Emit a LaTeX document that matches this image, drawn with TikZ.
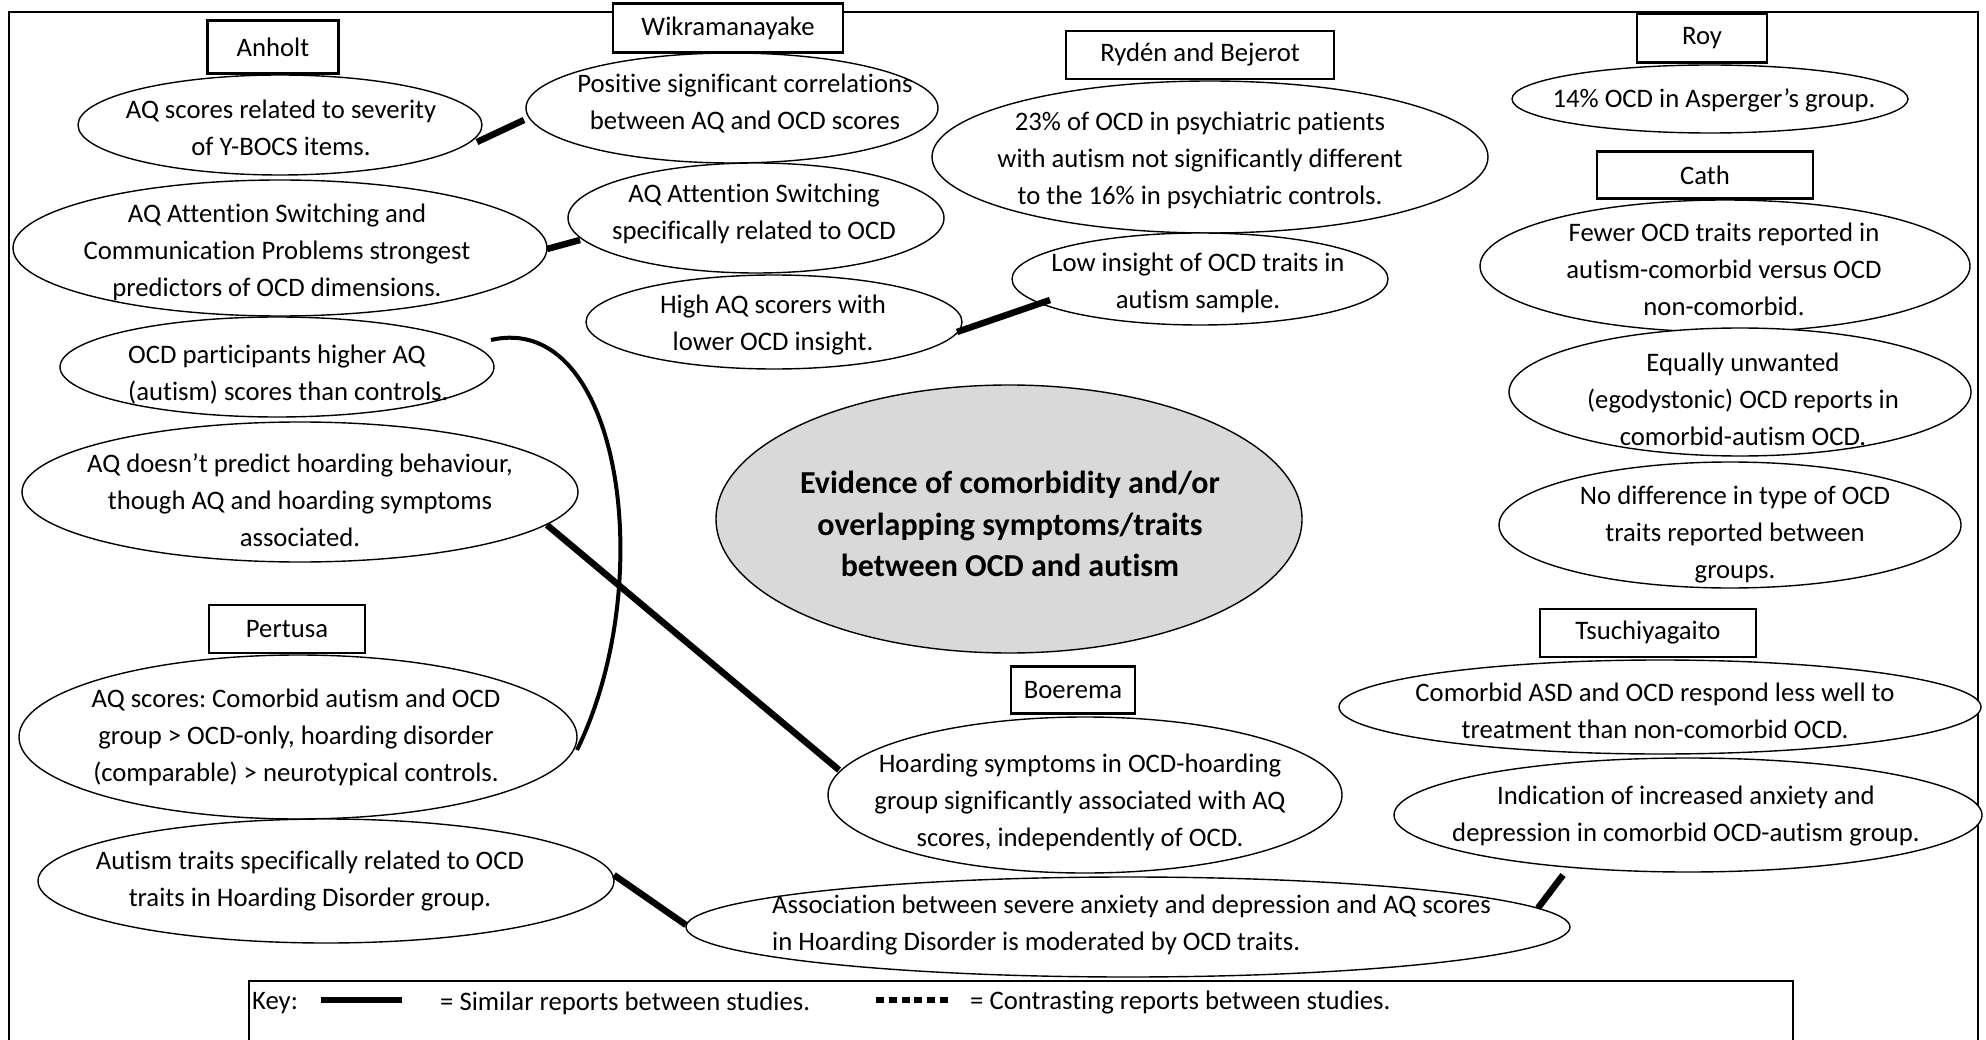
\documentclass[tikz,border=0pt]{standalone}
\usepackage{fontspec}
\setmainfont[Ligatures={TeX,NoCommon}]{Carlito}
\frenchspacing
\usetikzlibrary{shapes.geometric,calc}
\begin{document}
\begin{tikzpicture}[x=1pt,y=-1pt,
  bubble/.style={draw, ellipse, fill=white, line width=1.4pt, inner sep=0pt},
  studybox/.style={draw, rectangle, fill=white, line width=2.4pt, inner sep=0pt,
    font=\fontsize{26.7}{37}\selectfont},
  txt/.style={align=center, inner sep=0pt, font=\fontsize{26.7}{37}\selectfont},
  ltxt/.style={align=left, inner sep=0pt, anchor=west, font=\fontsize{26.7}{37}\selectfont},
  link/.style={line width=6.5pt},
  contrast/.style={line width=6pt, dash pattern=on 8pt off 4.8pt},
]
\useasboundingbox (0,0) rectangle (1986,1040);

% outer frame (runs past the bottom edge)
\draw[line width=2.4pt] (9,1080) -- (9,12) -- (1978,12) -- (1978,1080);

% finding bubbles
\node[bubble, minimum width=404pt, minimum height=100pt] (a1) at (280,125) {};
\node[bubble, minimum width=412pt, minimum height=110pt] (a2) at (732,108) {};
\node[bubble, minimum width=534pt, minimum height=136pt] (a3) at (280,248) {};
\node[bubble, minimum width=376pt, minimum height=110pt] (a4) at (756,218) {};
\node[bubble, minimum width=376pt, minimum height=94pt]  (a5) at (774,322) {};
\node[bubble, minimum width=434pt, minimum height=100pt] (a6) at (277,367) {};
\node[bubble, minimum width=556pt, minimum height=140pt] (a7) at (300,492) {};
\node[bubble, minimum width=556pt, minimum height=152pt] (r1) at (1210,157) {};
\node[bubble, minimum width=376pt, minimum height=92pt]  (li) at (1200,279) {};
\node[bubble, minimum width=396pt, minimum height=68pt]  (roy1) at (1710,99) {};
\node[bubble, minimum width=490pt, minimum height=132pt] (c1) at (1725,266) {};
\node[bubble, minimum width=462pt, minimum height=128pt] (c2) at (1740,392) {};
\node[bubble, minimum width=462pt, minimum height=126pt] (c3) at (1730,525) {};
\node[bubble, minimum width=558pt, minimum height=164pt] (p1) at (298,737) {};
\node[bubble, minimum width=576pt, minimum height=124pt] (at) at (326,881) {};
\node[bubble, minimum width=514pt, minimum height=156pt] (be) at (1085,795) {};
\node[bubble, minimum width=642pt, minimum height=94pt]  (t1) at (1660,707) {};
\node[bubble, minimum width=588pt, minimum height=114pt] (t2) at (1688,815) {};
\node[bubble, minimum width=884pt, minimum height=100pt] (as) at (1128,927) {};

% central topic
\node[bubble, fill={rgb,255:red,217;green,217;blue,217}, minimum width=586pt, minimum height=268pt] (ctr) at (1009,519) {};

% study labels
\node[studybox, minimum width=131pt, minimum height=53pt] (anholt) at (273,47) {Anholt};
\node[studybox, minimum width=230pt, minimum height=49pt] (wikra) at (728,28) {Wikramanayake};
\node[studybox, minimum width=268pt, minimum height=48pt] (ryden) at (1200,55) {Rydén and Bejerot};
\node[studybox, minimum width=130pt, minimum height=49pt] (roy) at (1702,38) {Roy};
\node[studybox, minimum width=216pt, minimum height=47pt] (cath) at (1705,175) {Cath};
\node[studybox, minimum width=156pt, minimum height=48pt] (pertusa) at (287,629) {Pertusa};
\node[studybox, minimum width=124pt, minimum height=47pt] (boerema) at (1073,690) {Boerema};
\node[studybox, minimum width=216pt, minimum height=48pt] (tsuchi) at (1648,633) {Tsuchiyagaito};

% bubble texts
\node[txt] (a1t) at (281,128) {AQ scores related to severity\\of Y-BOCS items.};
\node[txt] (a2t) at (745,104) {Positive significant correlations\\between AQ and OCD scores};
\node[txt] (a3t) at (277,252) {AQ Attention Switching and\\Communication Problems strongest\\predictors of OCD dimensions.};
\node[txt] (a4t) at (754,214) {AQ Attention Switching\\specifically related to OCD};
\node[txt] (a5t) at (773,325) {High AQ scorers with\\lower OCD insight.};
\node[ltxt] (a6t) at (128,375) {OCD participants higher AQ\\(autism) scores than controls.};
\node[txt] (a7t) at (300,500) {AQ doesn’t predict hoarding behaviour,\\though AQ and hoarding symptoms\\associated.};
\node[txt] (r1t) at (1200,160) {23\% of OCD in psychiatric patients\\with autism not significantly different\\to the 16\% in psychiatric controls.};
\node[txt] (lit) at (1198,283) {Low insight of OCD traits in\\autism sample.};
\node[txt] (roy1t) at (1714,100) {14\% OCD in Asperger’s group.};
\node[txt] (c1t) at (1724,269) {Fewer OCD traits reported in\\autism-comorbid versus OCD\\non-comorbid.};
\node[txt] (c2t) at (1743,399) {Equally unwanted\\(egodystonic) OCD reports in\\comorbid-autism OCD.};
\node[txt] (c3t) at (1735,535) {No difference in type of OCD\\traits reported between\\groups.};
\node[txt] (p1t) at (296,737) {AQ scores: Comorbid autism and OCD\\group > OCD-only, hoarding disorder\\(comparable) > neurotypical controls.};
\node[txt] (att) at (310,881) {Autism traits specifically related to OCD\\traits in Hoarding Disorder group.};
\node[txt] (bet) at (1080,802) {Hoarding symptoms in OCD-hoarding\\group significantly associated with AQ\\scores, independently of OCD.};
\node[txt] (t1t) at (1655,711) {Comorbid ASD and OCD respond less well to\\treatment than non-comorbid OCD.};
\node[txt] (t2t) at (1686,816) {Indication of increased anxiety and\\depression in comorbid OCD-autism group.};
\node[ltxt] (ast) at (772,925) {Association between severe anxiety and depression and AQ scores\\in Hoarding Disorder is moderated by OCD traits.};
\node[txt, font=\fontsize{32}{41.5}\selectfont\bfseries] (ctrt) at (1010,524)
  {Evidence of comorbidity and/or\\overlapping symptoms/traits\\between OCD and autism};

% links between similar reports
\draw[link] ($(a1.center)+(197,17)$) -- ($(a2.center)+(-208,12)$);
\draw[link] ($(a3.center)+(267,1)$) -- ($(a4.center)+(-176,22)$);
\draw[link] ($(a5.center)+(183,10)$) -- ($(li.center)+(-150,21)$);
\draw[link] ($(a7.center)+(247,33)$) -- ($(be.center)+(-246,-25)$);
\draw[link] ($(at.center)+(288,-6)$) -- ($(as.center)+(-442,-2)$);
\draw[link] ($(t2.center)+(-125,60)$) -- ($(as.center)+(410,-19)$);
\draw[line width=4pt] ($(a6.center)+(214,-27)$) .. controls +(129,-30) and +(83,-170) .. ($(p1.center)+(279,13)$);

% key
\draw[line width=2.4pt] (249,1080) -- (249,981) -- (1793,981) -- (1793,1080);
\node[ltxt] (keylbl) at (252,1003) {Key:};
\coordinate (simA) at (321,1000);
\coordinate (simB) at (402,1000);
\draw[link] (simA) -- (simB);
\node[ltxt] (simtxt) at (440,1003) {= Similar reports between studies.};
\coordinate (conA) at (876,1000);
\coordinate (conB) at (948,1000);
\draw[contrast] (conA) -- (conB);
\node[ltxt] (contxt) at (970,1003) {= Contrasting reports between studies.};
\end{tikzpicture}
\end{document}
